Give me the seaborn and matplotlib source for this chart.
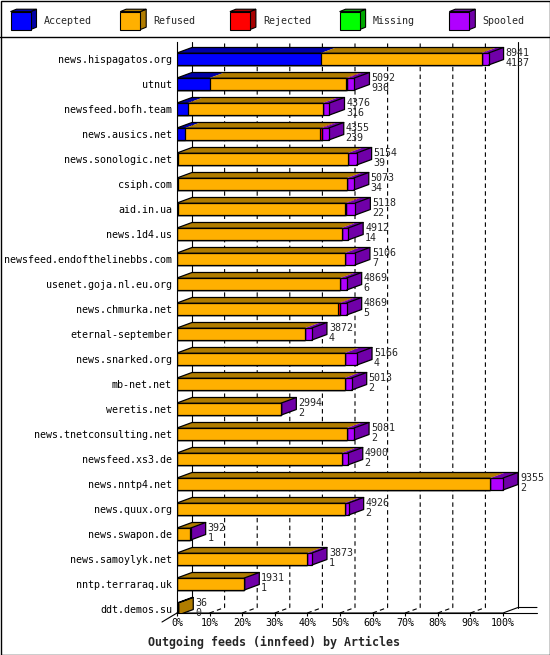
import matplotlib
matplotlib.use("Agg")
import matplotlib.pyplot as plt
from matplotlib.patches import Rectangle, Polygon
import seaborn as sns

feeds = ["news.hispagatos.org", "utnut", "newsfeed.bofh.team", "news.ausics.net",
         "news.sonologic.net", "csiph.com", "aid.in.ua", "news.1d4.us",
         "newsfeed.endofthelinebbs.com", "usenet.goja.nl.eu.org", "news.chmurka.net",
         "eternal-september", "news.snarked.org", "mb-net.net", "weretis.net",
         "news.tnetconsulting.net", "newsfeed.xs3.de", "news.nntp4.net", "news.quux.org",
         "news.swapon.de", "news.samoylyk.net", "nntp.terraraq.uk", "ddt.demos.su"]
offered = [8941, 5092, 4376, 4355, 5154, 5073, 5118, 4912, 5106, 4869, 4869,
           3872, 5166, 5013, 2994, 5081, 4900, 9355, 4926, 392, 3873, 1931, 36]
accepted = [4137, 936, 316, 239, 39, 34, 22, 14, 7, 6, 5,
            4, 4, 2, 2, 2, 2, 2, 2, 1, 1, 1, 0]
rejected = [0, 50, 0, 55, 0, 0, 45, 0, 0, 0, 45,
            0, 0, 0, 0, 0, 0, 0, 0, 0, 0, 0, 0]
missing = [0] * len(feeds)
spooled = [200, 200, 190, 200, 250, 190, 260, 190, 290, 180, 190,
           190, 350, 200, 8, 200, 170, 360, 115, 8, 130, 8, 0]
refused = [o - a - r - m - s for o, a, r, m, s in zip(offered, accepted, rejected, missing, spooled)]

series = ["Accepted", "Refused", "Rejected", "Missing", "Spooled"]
colors = ["#0000ff", "#ffb000", "#ff0000", "#00ff00", "#b000ff"]
darks = ["#0000a8", "#b07c00", "#a80000", "#00a800", "#7000a8"]
tick_vals = list(range(0, 101, 10))

sns.set_style("white")
plt.rcParams["font.family"] = ["DejaVu Sans Mono"]
plt.rcParams["font.size"] = 7.2

W, H = 550, 655
fig = plt.figure(figsize=(5.5, 6.55), dpi=100)

# pixel frame for border, legend and title
frame = fig.add_axes([0, 0, 1, 1], zorder=0)
frame.set_xlim(0, W)
frame.set_ylim(H, 0)
frame.axis("off")
frame.add_patch(Rectangle((0.5, 0.5), W - 1, H - 1, fill=False, lw=1, ec="black"))
frame.plot([0, W], [36.5, 36.5], color="black", lw=1)

for k, name in enumerate(series):
    x0 = 10.5 + k * 109.7
    frame.add_patch(Polygon([(x0 + 20, 11.6), (x0 + 26, 9.2), (x0 + 26, 27.2), (x0 + 20, 29.6)],
                            closed=True, fc=darks[k], ec="black", lw=0.8))
    frame.add_patch(Polygon([(x0, 11.6), (x0 + 20, 11.6), (x0 + 26, 9.2), (x0 + 6, 9.2)],
                            closed=True, fc=darks[k], ec="black", lw=0.8))
    frame.add_patch(Rectangle((x0, 11.6), 20, 18, fc=colors[k], ec="black", lw=0.8))
    frame.text(x0 + 33.5, 20.5, name, ha="left", va="center")

frame.text(274, 642, "Outgoing feeds (innfeed) by Articles", ha="center", va="center",
           fontsize=8.4, fontweight="bold")

# main plot area
px_pct = 3.26
px_row = 25.0
ax_left, ax_right, ax_top, ax_bot = 177, 537, 42, 613
ax = fig.add_axes([ax_left / W, (H - ax_bot) / H, (ax_right - ax_left) / W, (ax_bot - ax_top) / H],
                  zorder=1)
ax.set_facecolor("none")

xmax = (ax_right - ax_left) / px_pct
y_top = -(59 - ax_top) / px_row
y_floor = (ax_bot - 59) / px_row
dx = 15 / px_pct
dy = 5.5 / px_row
bh = 0.48

scale = 100.0 / max(offered)
segs = [accepted, refused, rejected, missing, spooled]
pct = [[v * scale for v in s] for s in segs]
cum = []
run = [0.0] * len(feeds)
for s in pct:
    run = [a + b for a, b in zip(run, s)]
    cum.append(run)

for k in reversed(range(len(series))):
    sns.barplot(x=cum[k], y=feeds, orient="h", color=colors[k], saturation=1,
                edgecolor="black", linewidth=0.9, width=bh, errorbar=None, ax=ax, zorder=3)

for i in range(len(feeds)):
    yt = i - bh / 2
    yb = i + bh / 2
    start = 0.0
    last = 1
    for k in range(len(series)):
        w = pct[k][i]
        if w > 0:
            ax.add_patch(Polygon([(start, yt), (start + w, yt), (start + w + dx, yt - dy),
                                  (start + dx, yt - dy)], closed=True, fc=darks[k], lw=0, zorder=2))
            last = k
        start += w
    end = cum[-1][i]
    ax.add_patch(Polygon([(end, yb), (end, yt), (end + dx, yt - dy), (end + dx, yb - dy)],
                         closed=True, fc=darks[last], lw=0, zorder=2))
    ax.plot([0, dx, end + dx, end], [yt, yt - dy, yt - dy, yt], color="black", lw=0.9, zorder=4)
    ax.plot([end + dx, end + dx, end], [yt - dy, yb - dy, yb], color="black", lw=0.9, zorder=4)
    ax.text(end + dx + 0.6, i - 0.25, str(offered[i]), ha="left", va="center", zorder=5)
    ax.text(end + dx + 0.6, i + 0.16, str(accepted[i]), ha="left", va="center", zorder=5)

# 3d walls and floor
for p in tick_vals[1:-1]:
    ax.plot([p, p + dx, p + dx], [y_floor, y_floor - dy, y_top], color="black", lw=0.8,
            ls=(0, (4, 3)), zorder=1, clip_on=False)
ax.plot([dx, dx], [y_floor - dy, y_top], color="black", lw=0.8, zorder=1, clip_on=False)
ax.plot([100 + dx, 100 + dx], [y_floor - dy, y_top], color="black", lw=0.8, zorder=1, clip_on=False)
ax.plot([0, 100, 100 + dx, xmax], [y_floor, y_floor, y_floor - dy, y_floor - dy],
        color="black", lw=0.8, zorder=1, clip_on=False)
ax.plot([0, xmax], [y_floor, y_floor], color="black", lw=0.8, zorder=1, clip_on=False)
ax.plot([-dx, 0], [y_floor + 9 / px_row, y_floor], color="black", lw=0.8, zorder=1, clip_on=False)

ax.set_xlim(0, xmax)
ax.set_ylim(y_floor, y_top)
ax.set_xticks(tick_vals)
ax.set_xticklabels([f"{v}%" for v in tick_vals])
ax.set_xlabel("")
ax.set_ylabel("")
ax.tick_params(axis="x", direction="out", length=2.2, width=0.8, pad=1.2, colors="black")
ax.tick_params(axis="y", length=0, pad=3.6, colors="black")
ax.xaxis.set_ticks_position("bottom")
for side in ["top", "right", "bottom"]:
    ax.spines[side].set_visible(False)
ax.spines["left"].set_color("black")
ax.spines["left"].set_linewidth(0.8)

fig.savefig("out.png", dpi=100)
